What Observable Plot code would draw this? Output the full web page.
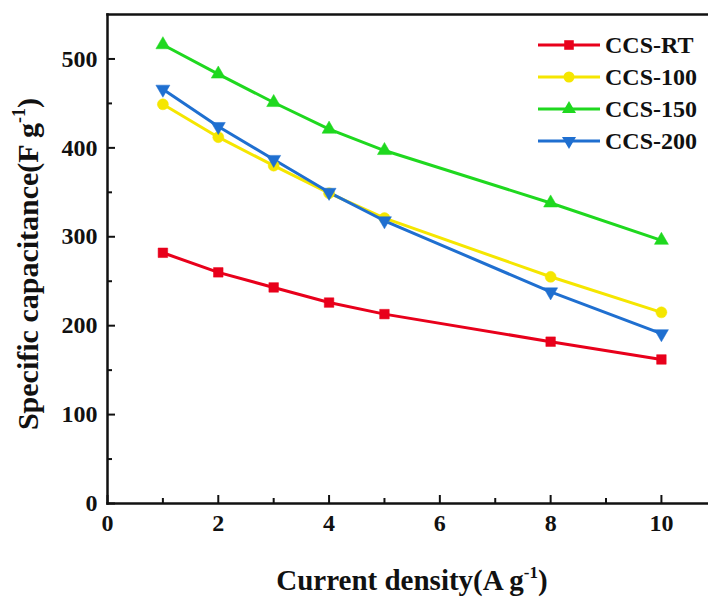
<!DOCTYPE html>
<html><head><meta charset="utf-8">
<script src="https://cdn.jsdelivr.net/npm/d3@7"></script>
<script src="https://cdn.jsdelivr.net/npm/@observablehq/plot@0.6"></script>
<style>body{margin:0;background:#fff} svg{display:block}</style>
</head><body><div id="chart"></div>
<script>
const currentDensity = [1, 2, 3, 4, 5, 8, 10];
const seriesNames = ["CCS-RT", "CCS-100", "CCS-150", "CCS-200"];
const ccsRT  = [282, 260, 243, 226, 213, 182, 162];
const ccs100 = [449, 412, 380, 349, 321, 255, 215];
const ccs150 = [516, 483, 451, 421, 397, 338, 296];
const ccs200 = [466, 424, 387, 350, 318, 238, 191];
const xMajorTicks = [0, 2, 4, 6, 8, 10];
const xMinorTicks = [1, 3, 5, 7, 9];
const yMajorTicks = [0, 100, 200, 300, 400, 500];
const yMinorTicks = [50, 150, 250, 350, 450];
const colors = ["#e8001b", "#f5e600", "#1fd81f", "#1f6fd0"];

const triangleDown = {
  draw(ctx, size) {
    const y = -Math.sqrt(size / (Math.sqrt(3) * 3));
    ctx.moveTo(0, -2 * y);
    ctx.lineTo(-Math.sqrt(3) * y, y);
    ctx.lineTo(Math.sqrt(3) * y, y);
    ctx.closePath();
  }
};
const symbolList = ["square", "circle", "triangle", triangleDown];
const radii = [5.4, 5.5, 5.2, 5.2];

const allSeries = [ccsRT, ccs100, ccs150, ccs200];
const rows = allSeries.flatMap((vals, i) =>
  vals.map((v, j) => ({x: currentDensity[j], y: v, s: seriesNames[i], i})));

const font = "Liberation Serif, Times New Roman, serif";

const marks = [];
seriesNames.forEach((name, i) => {
  const d = rows.filter(r => r.i === i);
  marks.push(Plot.line(d, {x: "x", y: "y", stroke: colors[i], strokeWidth: 3}));
});
seriesNames.forEach((name, i) => {
  const d = rows.filter(r => r.i === i);
  marks.push(Plot.dot(d, {x: "x", y: "y", fill: colors[i], stroke: colors[i], strokeWidth: 0.5, symbol: () => symbolList[i], r: radii[i]}));
});

const chart = Plot.plot({
  width: 708, height: 597,
  marginLeft: 107, marginRight: 0, marginTop: 14, marginBottom: 94,
  style: {fontFamily: font, background: "#fff"},
  x: {domain: [0, 10.85]},
  y: {domain: [0, 550]},
  marks: [
    Plot.axisX(xMajorTicks, {tickSize: 0, tickPadding: 10, fontSize: 24, fontWeight: "bold", fill: "#111", label: null}),
    Plot.axisX(xMajorTicks, {tickSize: -8, text: null, strokeWidth: 2, stroke: "#111", label: null}),
    Plot.axisX(xMinorTicks, {tickSize: -5, text: null, strokeWidth: 2, stroke: "#111", label: null}),
    Plot.axisY(yMajorTicks, {tickSize: 0, tickPadding: 10, fontSize: 24, fontWeight: "bold", fill: "#111", label: null}),
    Plot.axisY(yMajorTicks, {tickSize: -8, text: null, strokeWidth: 2, stroke: "#111", label: null}),
    Plot.axisY(yMinorTicks, {tickSize: -5, text: null, strokeWidth: 2, stroke: "#111", label: null}),
    Plot.frame({anchor: "left", stroke: "#111", strokeWidth: 2.5}),
    Plot.frame({anchor: "bottom", stroke: "#111", strokeWidth: 2.5}),
    Plot.frame({anchor: "top", stroke: "#111", strokeWidth: 2.5}),
    ...marks
  ]
});

const svg = d3.select(chart);
// axis titles with superscripts
const xt = svg.append("text").attr("x", 412).attr("y", 590).attr("text-anchor", "middle")
  .attr("font-family", font).attr("font-weight", "bold").attr("font-size", 29).attr("fill", "#111");
xt.append("tspan").text("Current density(A g");
xt.append("tspan").attr("font-size", 17).attr("dy", -12).text("-1");
xt.append("tspan").attr("dy", 12).text(")");

const yt = svg.append("text").attr("transform", "translate(38,264) rotate(-90)").attr("text-anchor", "middle")
  .attr("font-family", font).attr("font-weight", "bold").attr("font-size", 30).attr("fill", "#111");
yt.append("tspan").text("Specific capacitance(F g");
yt.append("tspan").attr("font-size", 18).attr("dy", -13).text("-1");
yt.append("tspan").attr("dy", 13).text(")");

// legend
const legendY = [45, 77, 109, 141];
const lg = svg.append("g");
seriesNames.forEach((name, i) => {
  const g = lg.append("g").attr("transform", `translate(0,${legendY[i]})`);
  g.append("line").attr("x1", 538).attr("x2", 600).attr("stroke", colors[i]).attr("stroke-width", 3);
  const sym = i === 3 ? triangleDown : ({square: d3.symbolSquare, circle: d3.symbolCircle, triangle: d3.symbolTriangle})[symbolList[i]];
  g.append("path").attr("transform", "translate(569,0)")
    .attr("d", d3.symbol(sym, radii[i] * radii[i] * Math.PI)()).attr("fill", colors[i]);
  g.append("text").attr("x", 605).attr("y", 0).attr("dy", "0.35em").attr("text-anchor", "start")
    .attr("font-family", font).attr("font-weight", "bold").attr("font-size", 24).attr("fill", "#111").text(name);
});

document.getElementById("chart").appendChild(chart);
</script></body></html>
